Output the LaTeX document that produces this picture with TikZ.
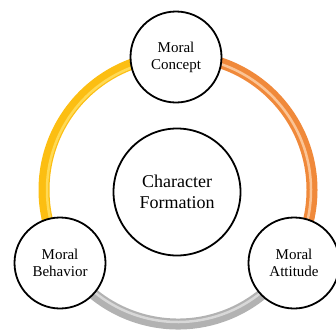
\documentclass[tikz,border=0pt]{standalone}
\usepackage{fontspec}
\setmainfont{Liberation Serif}
\definecolor{ringyellow}{HTML}{FCBE12}
\definecolor{ringyellowhi}{HTML}{FFDA55}
\definecolor{ringorange}{HTML}{F0893A}
\definecolor{ringorangehi}{HTML}{FBC495}
\definecolor{ringgray}{HTML}{B2B2B2}
\definecolor{ringgrayhi}{HTML}{D8D8D8}
\begin{document}
\begin{tikzpicture}[x=1pt,y=-1pt,
  ring/.style={line width=11pt},
  ringhi/.style={line width=2.5pt},
  smallcirc/.style={circle,draw=black,line width=1.8pt,fill=white,minimum size=91pt,inner sep=0pt,align=center,font=\fontsize{15}{17}\selectfont},
  bigcirc/.style={circle,draw=black,line width=1.8pt,fill=white,minimum size=127pt,inner sep=0pt,align=center,font=\fontsize{18}{21}\selectfont}]
\useasboundingbox (0,0) rectangle (336,332);
\coordinate (ctr) at (178,190);
% ring arcs
\draw[ring,ringyellow] ([shift={(90:134pt)}]ctr) arc[start angle=90,end angle=212,radius=134pt];
\draw[ringhi,ringyellowhi] ([shift={(95:131pt)}]ctr) arc[start angle=95,end angle=205,radius=131pt];
\draw[ring,ringorange] ([shift={(90:134pt)}]ctr) arc[start angle=90,end angle=-32,radius=134pt];
\draw[ringhi,ringorangehi] ([shift={(80:133pt)}]ctr) arc[start angle=80,end angle=-25,radius=133pt];
\draw[ring,ringgray] ([shift={(212:134pt)}]ctr) arc[start angle=212,end angle=328,radius=134pt];
\draw[ringhi,ringgrayhi] ([shift={(218:132pt)}]ctr) arc[start angle=218,end angle=322,radius=132pt];
% nodes
\node[bigcirc] (cf) at (177,192) {Character\\Formation};
\node[smallcirc] (mc) at (176,57) {Moral\\Concept};
\node[smallcirc] (mb) at (60,263) {Moral\\Behavior};
\node[smallcirc] (ma) at (294,263) {Moral\\Attitude};
\end{tikzpicture}
\end{document}
